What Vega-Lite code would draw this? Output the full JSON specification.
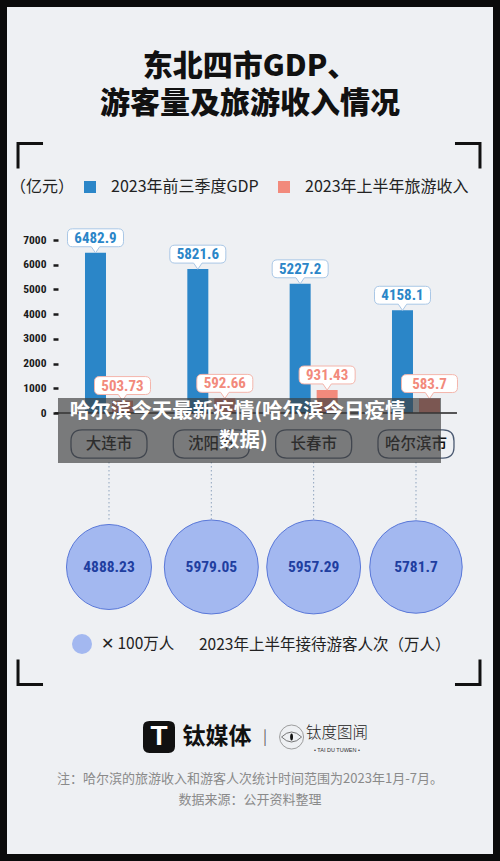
{
  "$schema": "https://vega.github.io/schema/vega-lite/v6.json",
  "width": 500,
  "height": 861,
  "autosize": {"type": "none"},
  "padding": 0,
  "background": "#eef0f3",
  "config": {
    "view": {"stroke": "#0b0b0b", "strokeWidth": 14, "fill": "#eef0f3"},
    "font": "Noto Sans CJK SC"
  },
  "resolve": {"axis": {"x": "independent", "y": "independent"}},
  "data": {"values": [
    {"城市": "大连市", "2023年前三季度GDP": 6482.9, "2023年上半年旅游收入": 503.73, "接待游客人次": 4888.23},
    {"城市": "沈阳市", "2023年前三季度GDP": 5821.6, "2023年上半年旅游收入": 592.66, "接待游客人次": 5979.05},
    {"城市": "长春市", "2023年前三季度GDP": 5227.2, "2023年上半年旅游收入": 931.43, "接待游客人次": 5957.29},
    {"城市": "哈尔滨市", "2023年前三季度GDP": 4158.1, "2023年上半年旅游收入": 583.7, "接待游客人次": 5781.7}
  ]},
  "layer": [
    {
      "data": {"values": [{}]},
      "mark": {"type": "point", "shape": "M 1 -1 L -1 -1 L -1 1", "size": 625, "filled": false, "stroke": "#111", "strokeWidth": 3, "opacity": 1},
      "encoding": {
        "x": {"datum": "大连市", "bandPosition": -1.135, "type": "nominal", "axis": null},
        "y": {"datum": 10399, "type": "quantitative", "axis": null}
      }
    },
    {
      "data": {"values": [{}]},
      "mark": {"type": "point", "shape": "M -1 -1 L 1 -1 L 1 1", "size": 625, "filled": false, "stroke": "#111", "strokeWidth": 3, "opacity": 1},
      "encoding": {
        "x": {"datum": "哈尔滨市", "bandPosition": 1.573, "type": "nominal", "axis": null},
        "y": {"datum": 10399, "type": "quantitative", "axis": null}
      }
    },
    {
      "data": {"values": [{}]},
      "mark": {"type": "point", "shape": "M -1 -1 L -1 1 L 1 1", "size": 625, "filled": false, "stroke": "#111", "strokeWidth": 3, "opacity": 1},
      "encoding": {
        "x": {"datum": "大连市", "bandPosition": -1.135, "type": "nominal", "axis": null},
        "y": {"datum": -10480, "type": "quantitative", "axis": null}
      }
    },
    {
      "data": {"values": [{}]},
      "mark": {"type": "point", "shape": "M 1 -1 L 1 1 L -1 1", "size": 625, "filled": false, "stroke": "#111", "strokeWidth": 3, "opacity": 1},
      "encoding": {
        "x": {"datum": "哈尔滨市", "bandPosition": 1.573, "type": "nominal", "axis": null},
        "y": {"datum": -10480, "type": "quantitative", "axis": null}
      }
    },
    {
      "data": {"values": [{}]},
      "mark": {"type": "text", "text": "东北四市GDP、", "fontSize": 30, "fontWeight": 900, "color": "#111", "baseline": "middle", "align": "center"},
      "encoding": {
        "x": {"datum": "沈阳市", "bandPosition": 1.306, "type": "nominal", "axis": null},
        "y": {"datum": 14000, "type": "quantitative", "axis": null}
      }
    },
    {
      "data": {"values": [{}]},
      "mark": {"type": "text", "text": "游客量及旅游收入情况", "fontSize": 30, "fontWeight": 900, "color": "#111", "baseline": "middle", "align": "center"},
      "encoding": {
        "x": {"datum": "沈阳市", "bandPosition": 1.306, "type": "nominal", "axis": null},
        "y": {"datum": 12500, "type": "quantitative", "axis": null}
      }
    },
    {
      "transform": [{"fold": ["2023年前三季度GDP", "2023年上半年旅游收入"], "as": ["series", "value"]}],
      "mark": {"type": "bar"},
      "encoding": {
        "x": {"field": "城市", "type": "nominal", "sort": null,
              "scale": {"domain": ["大连市", "沈阳市", "长春市", "哈尔滨市"], "range": [55, 457], "paddingInner": 0.531, "paddingOuter": 0.2297, "align": 0.638},
              "axis": null},
        "xOffset": {"field": "series", "type": "nominal",
                    "scale": {"domain": ["2023年前三季度GDP", "2023年上半年旅游收入"], "paddingInner": 0.222, "paddingOuter": 0}},
        "y": {"field": "value", "type": "quantitative",
              "scale": {"domain": [0, 7000], "range": [413, 240], "nice": false},
              "axis": {"orient": "left", "offset": -58, "values": [0, 1000, 2000, 3000, 4000, 5000, 6000, 7000], "format": "d", "domain": false, "grid": false,
                       "ticks": true, "tickSize": 5, "tickWidth": 2.5, "tickColor": "#1a1a1a", "zindex": 1,
                       "labelFont": "Roboto Condensed, DejaVu Sans Condensed, Roboto, sans-serif", "labelFontWeight": "bold", "labelFontSize": 11.5, "labelColor": "#1a1a1a", "labelPadding": 7, "title": null}},
        "color": {"field": "series", "type": "nominal",
                  "scale": {"domain": ["2023年前三季度GDP", "2023年上半年旅游收入"], "range": ["#2b86c8", "#f28a7c"]},
                  "legend": {"orient": "none", "legendX": 10, "legendY": 179, "direction": "horizontal",
                             "title": "（亿元）", "titleOrient": "left", "titleFontSize": 16, "titleFontWeight": "normal", "titleColor": "#222", "titlePadding": 7, "titleLimit": 400,
                             "labelFontSize": 16, "labelColor": "#222", "labelOffset": 13, "columnPadding": 17, "labelLimit": 400,
                             "symbolType": "square", "symbolSize": 144, "symbolStrokeWidth": 0, "symbolOpacity": 1, "padding": 0}}
      }
    },
    {
      "transform": [{"fold": ["2023年前三季度GDP", "2023年上半年旅游收入"], "as": ["series", "value"]}],
      "mark": {"type": "point", "shape": "M -0.82 -0.32 L 0.82 -0.32 Q 1 -0.32 1 -0.14 L 1 0.14 Q 1 0.32 0.82 0.32 L 0.15 0.32 L 0 0.54 L -0.15 0.32 L -0.82 0.32 Q -1 0.32 -1 0.14 L -1 -0.14 Q -1 -0.32 -0.82 -0.32 Z",
               "size": 3136, "filled": true, "fill": "white", "strokeWidth": 1, "opacity": 1, "yOffset": -15},
      "encoding": {
        "x": {"field": "城市", "type": "nominal", "axis": null},
        "xOffset": {"field": "series", "type": "nominal"},
        "y": {"field": "value", "type": "quantitative", "axis": null},
        "stroke": {"field": "series", "type": "nominal", "scale": {"domain": ["2023年前三季度GDP", "2023年上半年旅游收入"], "range": ["#a9c7e6", "#f4b5ab"]}, "legend": null}
      }
    },
    {
      "transform": [{"fold": ["2023年前三季度GDP", "2023年上半年旅游收入"], "as": ["series", "value"]}],
      "mark": {"type": "text", "font": "Roboto Condensed, DejaVu Sans Condensed, Roboto, sans-serif", "fontWeight": "bold", "fontSize": 15, "baseline": "middle", "align": "center", "yOffset": -15},
      "encoding": {
        "x": {"field": "城市", "type": "nominal", "axis": null},
        "xOffset": {"field": "series", "type": "nominal"},
        "y": {"field": "value", "type": "quantitative", "axis": null},
        "text": {"field": "value", "type": "nominal"},
        "color": {"field": "series", "type": "nominal"}
      }
    },
    {
      "mark": {"type": "rule", "stroke": "#8fa3bd", "strokeWidth": 1, "strokeDash": [1.5, 2.5]},
      "encoding": {
        "x": {"field": "城市", "type": "nominal", "axis": null},
        "y": {"datum": -1983, "type": "quantitative", "axis": null},
        "y2": {"datum": -4329}
      }
    },
    {
      "mark": {"type": "point", "shape": "M -0.71 -0.37 L 0.71 -0.37 Q 1 -0.37 1 -0.08 L 1 0.08 Q 1 0.37 0.71 0.37 L -0.71 0.37 Q -1 0.37 -1 0.08 L -1 -0.08 Q -1 -0.37 -0.71 -0.37 Z",
               "size": 5776, "filled": false, "stroke": "#4b5a72", "strokeWidth": 1.3, "opacity": 1},
      "encoding": {
        "x": {"field": "城市", "type": "nominal", "axis": null},
        "y": {"datum": -1254, "type": "quantitative", "axis": null}
      }
    },
    {
      "mark": {"type": "text", "fontSize": 15.5, "fontWeight": 500, "color": "#111", "baseline": "middle", "align": "center"},
      "encoding": {
        "x": {"field": "城市", "type": "nominal", "axis": null},
        "y": {"datum": -1254, "type": "quantitative", "axis": null},
        "text": {"field": "城市", "type": "nominal"}
      }
    },
    {
      "data": {"values": [{}]},
      "mark": {"type": "rule", "color": "#222", "strokeWidth": 1.5},
      "encoding": {
        "x": {"datum": "大连市", "bandPosition": -0.625, "type": "nominal", "axis": null},
        "x2": {"datum": "哈尔滨市", "bandPosition": 1.354},
        "y": {"datum": 0, "type": "quantitative", "axis": null}
      }
    },
    {
      "mark": {"type": "point", "shape": "circle", "filled": true, "fill": "#a3b8f0", "stroke": "#5a78d8", "strokeWidth": 1, "opacity": 1},
      "encoding": {
        "x": {"field": "城市", "type": "nominal", "axis": null},
        "y": {"datum": -6231, "type": "quantitative", "axis": null},
        "size": {"field": "接待游客人次", "type": "quantitative",
                 "scale": {"domain": [0, 6000], "range": [0, 8868], "zero": true},
                 "legend": {"orient": "none", "legendX": 71, "legendY": 633, "direction": "horizontal", "values": [271],
                            "labelExpr": "'✕ 100万人'",
                            "title": "2023年上半年接待游客人次（万人）", "titleOrient": "right", "titleFontSize": 15.5, "titleFontWeight": "normal", "titleColor": "#222", "titlePadding": 25, "titleLimit": 400,
                            "labelFontSize": 15.5, "labelColor": "#222", "labelOffset": 8, "labelLimit": 400,
                            "symbolType": "circle", "symbolFillColor": "#a3b8f0", "symbolStrokeColor": "#5a78d8", "symbolStrokeWidth": 1, "symbolOpacity": 1, "padding": 0}}
      }
    },
    {
      "mark": {"type": "text", "font": "Roboto Condensed, DejaVu Sans Condensed, Roboto, sans-serif", "fontWeight": "bold", "fontSize": 15.5, "color": "#1f3ea0", "baseline": "middle", "align": "center"},
      "encoding": {
        "x": {"field": "城市", "type": "nominal", "axis": null},
        "y": {"datum": -6231, "type": "quantitative", "axis": null},
        "text": {"field": "接待游客人次", "type": "nominal"}
      }
    },
    {
      "data": {"values": [{}]},
      "mark": {"type": "rect", "fill": "#3c3c3c", "opacity": 0.66},
      "encoding": {
        "x": {"datum": "大连市", "bandPosition": -0.5625, "type": "nominal", "axis": null},
        "x2": {"datum": "哈尔滨市", "bandPosition": 1.021},
        "y": {"datum": 607, "type": "quantitative", "axis": null},
        "y2": {"datum": -2023}
      }
    },
    {
      "data": {"values": [{}]},
      "mark": {"type": "text", "text": "哈尔滨今天最新疫情(哈尔滨今日疫情", "fontSize": 20.5, "fontWeight": "bold", "color": "white", "baseline": "middle", "align": "center"},
      "encoding": {
        "x": {"datum": "沈阳市", "bandPosition": 1.05, "type": "nominal", "axis": null},
        "y": {"datum": 40, "type": "quantitative", "axis": null}
      }
    },
    {
      "data": {"values": [{}]},
      "mark": {"type": "text", "text": "数据)", "fontSize": 20.5, "fontWeight": "bold", "color": "white", "baseline": "middle", "align": "center"},
      "encoding": {
        "x": {"datum": "沈阳市", "bandPosition": 1.17, "type": "nominal", "axis": null},
        "y": {"datum": -1133, "type": "quantitative", "axis": null}
      }
    },
    {
      "data": {"values": [{}]},
      "mark": {"type": "point", "shape": "M -0.6 -1 L 0.6 -1 Q 1 -1 1 -0.6 L 1 0.6 Q 1 1 0.6 1 L -0.6 1 Q -1 1 -1 0.6 L -1 -0.6 Q -1 -1 -0.6 -1 Z", "size": 1024, "filled": true, "fill": "#111", "strokeWidth": 0, "opacity": 1},
      "encoding": {
        "x": {"datum": "大连市", "bandPosition": 1.542, "type": "nominal", "axis": null},
        "y": {"datum": -13110, "type": "quantitative", "axis": null}
      }
    },
    {
      "data": {"values": [{}]},
      "mark": {"type": "text", "text": "T", "font": "Liberation Sans", "fontSize": 28, "fontWeight": "bold", "color": "white", "baseline": "middle", "align": "center"},
      "encoding": {
        "x": {"datum": "大连市", "bandPosition": 1.542, "type": "nominal", "axis": null},
        "y": {"datum": -13110, "type": "quantitative", "axis": null}
      }
    },
    {
      "data": {"values": [{}]},
      "mark": {"type": "text", "text": "钛媒体", "fontSize": 23, "fontWeight": "bold", "color": "#111", "baseline": "middle", "align": "center"},
      "encoding": {
        "x": {"datum": "沈阳市", "bandPosition": 0.619, "type": "nominal", "axis": null},
        "y": {"datum": -13110, "type": "quantitative", "axis": null}
      }
    },
    {
      "data": {"values": [{}]},
      "mark": {"type": "text", "text": "|", "fontSize": 15, "color": "#666", "baseline": "middle", "align": "center"},
      "encoding": {
        "x": {"datum": "沈阳市", "bandPosition": 1.619, "type": "nominal", "axis": null},
        "y": {"datum": -13110, "type": "quantitative", "axis": null}
      }
    },
    {
      "data": {"values": [{}]},
      "mark": {"type": "point", "shape": "circle", "size": 576, "filled": false, "stroke": "#888", "strokeWidth": 0.8, "opacity": 1},
      "encoding": {
        "x": {"datum": "长春市", "bandPosition": 0.04, "type": "nominal", "axis": null},
        "y": {"datum": -13110, "type": "quantitative", "axis": null}
      }
    },
    {
      "data": {"values": [{}]},
      "mark": {"type": "point", "shape": "M -1 0 Q 0 -1 1 0 Q 0 1 -1 0 Z", "size": 400, "filled": false, "stroke": "#555", "strokeWidth": 0.8, "opacity": 1},
      "encoding": {
        "x": {"datum": "长春市", "bandPosition": 0.04, "type": "nominal", "axis": null},
        "y": {"datum": -13110, "type": "quantitative", "axis": null}
      }
    },
    {
      "data": {"values": [{}]},
      "mark": {"type": "point", "shape": "M 0 -1 C 0.55 -1 0.55 1 0 1 C -0.55 1 -0.55 -1 0 -1 Z", "size": 49, "filled": true, "fill": "#111", "strokeWidth": 0, "opacity": 1},
      "encoding": {
        "x": {"datum": "长春市", "bandPosition": 0.04, "type": "nominal", "axis": null},
        "y": {"datum": -13110, "type": "quantitative", "axis": null}
      }
    },
    {
      "data": {"values": [{}]},
      "mark": {"type": "text", "text": "钛度图闻", "fontSize": 15.5, "fontWeight": 300, "color": "#222", "baseline": "middle", "align": "center"},
      "encoding": {
        "x": {"datum": "长春市", "bandPosition": 0.985, "type": "nominal", "axis": null},
        "y": {"datum": -12948, "type": "quantitative", "axis": null}
      }
    },
    {
      "data": {"values": [{}]},
      "mark": {"type": "text", "text": "• TAI DU TUWEN •", "font": "Liberation Sans", "fontSize": 5.5, "color": "#333", "baseline": "middle", "align": "center"},
      "encoding": {
        "x": {"datum": "长春市", "bandPosition": 0.985, "type": "nominal", "axis": null},
        "y": {"datum": -13636, "type": "quantitative", "axis": null}
      }
    },
    {
      "data": {"values": [{}]},
      "mark": {"type": "text", "text": "注：哈尔滨的旅游收入和游客人次统计时间范围为2023年1月-7月。", "fontSize": 13, "color": "#8a8a8a", "baseline": "middle", "align": "center"},
      "encoding": {
        "x": {"datum": "沈阳市", "bandPosition": 1.306, "type": "nominal", "axis": null},
        "y": {"datum": -14809, "type": "quantitative", "axis": null}
      }
    },
    {
      "data": {"values": [{}]},
      "mark": {"type": "text", "text": "数据来源：公开资料整理", "fontSize": 13, "color": "#8a8a8a", "baseline": "middle", "align": "center"},
      "encoding": {
        "x": {"datum": "沈阳市", "bandPosition": 1.306, "type": "nominal", "axis": null},
        "y": {"datum": -15659, "type": "quantitative", "axis": null}
      }
    }
  ]
}
